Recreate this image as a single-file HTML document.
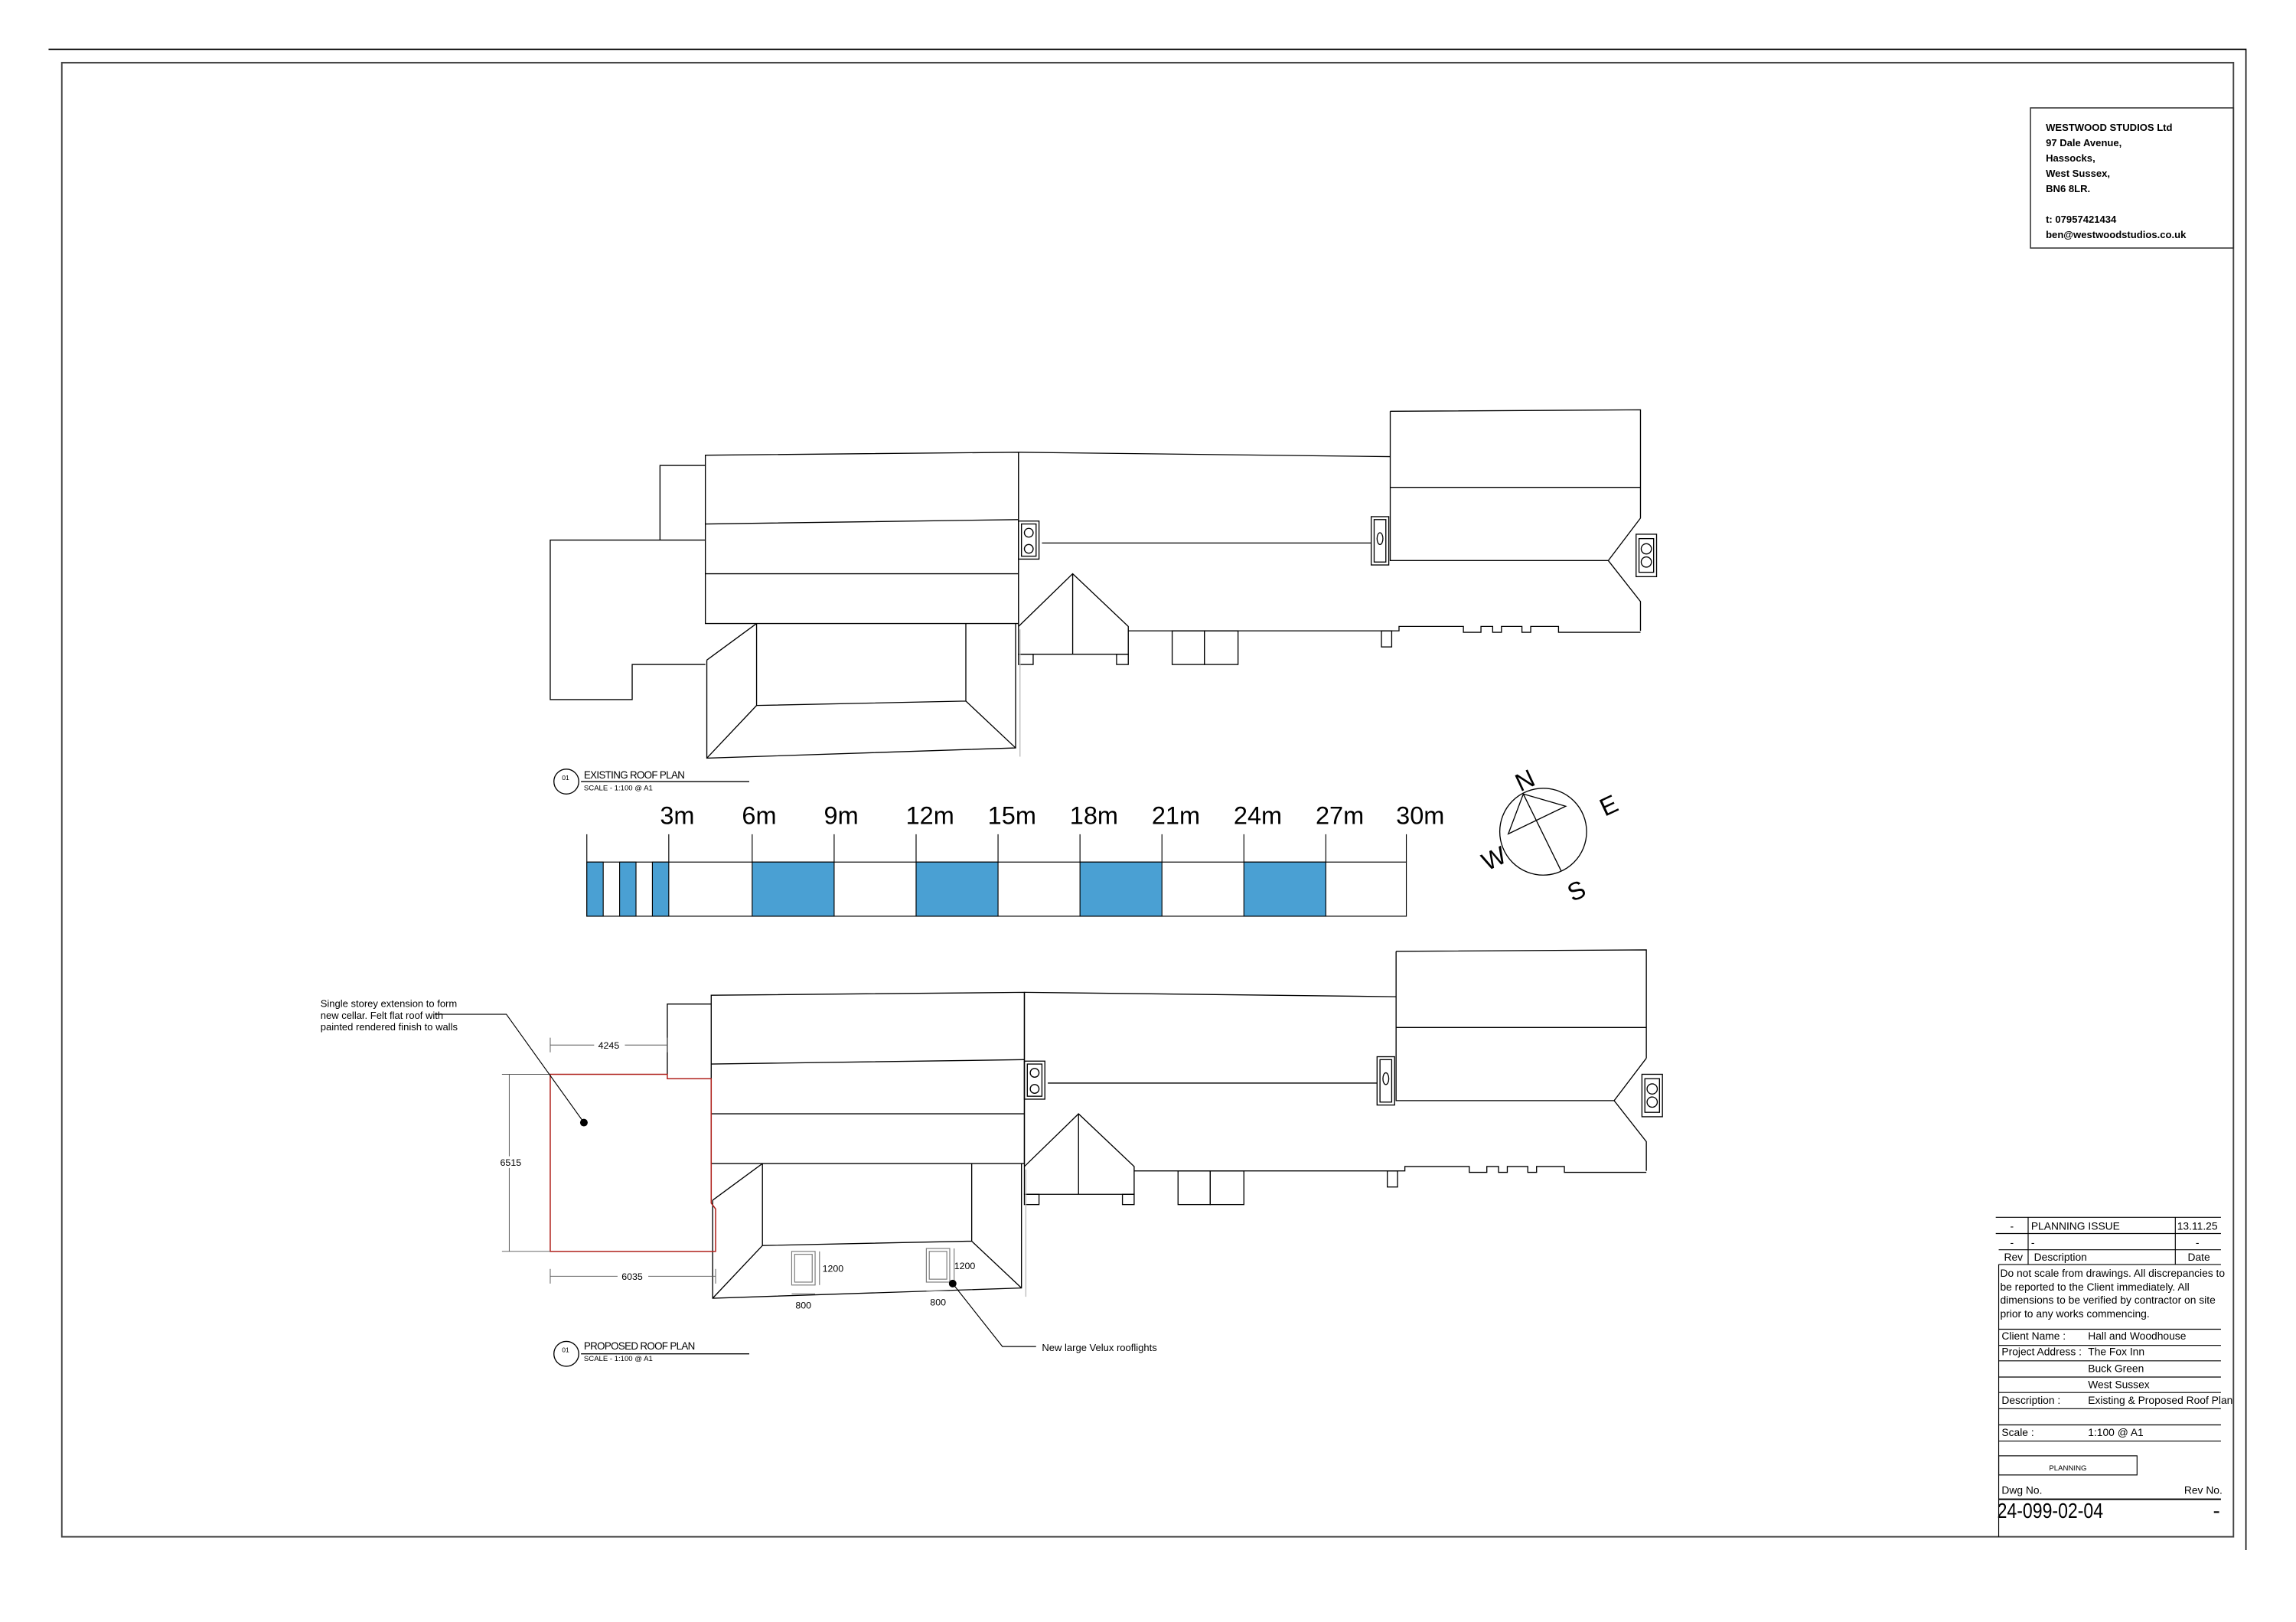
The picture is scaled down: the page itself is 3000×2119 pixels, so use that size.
<!DOCTYPE html>
<html><head><meta charset="utf-8"><style>
html,body{margin:0;padding:0;background:#fff;width:3000px;height:2119px;overflow:hidden}
svg{display:block}
text{font-family:"Liberation Sans",Arial,sans-serif;fill:#000}
</style></head><body>
<svg width="3000" height="2119" viewBox="0 0 1560 1101.9" preserveAspectRatio="none" xmlns="http://www.w3.org/2000/svg">
<defs>
<g id="bld" fill="none" stroke="#000" stroke-width="0.7">
  <path d="M482,311 L696,309 L696,426 L482,426 Z"/>
  <path d="M482,358 L696,355 M482,392 L696,392"/>
  <path d="M696,309 L950,312 M712,371 L937,371"/>
  <rect x="696" y="356" width="14" height="26"/><rect x="698" y="358" width="10" height="22"/>
  <circle cx="703" cy="364" r="3"/><circle cx="703" cy="375" r="3"/>
  <rect x="937" y="353" width="12" height="33"/><rect x="939" y="355" width="8" height="29"/>
  <ellipse cx="943" cy="368" rx="2" ry="4"/>
  <path d="M950,281 L1121,280 L1121,354 M950,333 L1121,333 M950,281 L950,383 L1099,383 M1121,354 L1099,383 L1121,411 L1121,431"/>
  <rect x="1118" y="365" width="14" height="29"/><rect x="1120" y="368" width="10" height="23"/>
  <circle cx="1125" cy="375" r="3.5"/><circle cx="1125" cy="384" r="3.5"/>
  <path d="M696,309 L696,447"/>
  <path d="M696,428 L733,392 L771,428 L771,447 L696,447 M733,392 L733,447"/>
  <rect x="696" y="447" width="10" height="7"/><rect x="763" y="447" width="8" height="7"/>
  <path d="M771,431 L956,431 L956,428 L1000,428 L1000,432 L1012,432 L1012,428 L1020,428 L1020,432 L1026,432 L1026,428 L1040,428 L1040,432 L1046,432 L1046,428 L1065,428 L1065,432 L1121,432"/>
  <rect x="801" y="431" width="22" height="23"/><rect x="823" y="431" width="23" height="23"/>
  <rect x="944" y="431" width="7" height="11"/>
  <path d="M483,451 L483,518 L694,511 L694,426 M517,426 L517,482 L660,479 L660,426 M517,482 L483,518 M660,479 L694,511 M517,426 L483,451"/>
  <path d="M697,430 L697,517" stroke="#bbb"/>
</g>
</defs>

<path d="M33,33.5 L1526,33.5 L1526,1053" fill="none" stroke="#000" stroke-width="0.8"/>
<rect x="42" y="42.6" width="1475.5" height="1001.4" fill="none" stroke="#444" stroke-width="1"/>

<g transform="scale(0.9943)">
  <use href="#bld"/>
  <g fill="none" stroke="#000" stroke-width="0.7">
    <path d="M482,369 L376,369 L376,478 L432,478 L432,454 L482,454"/>
    <path d="M482,318 L451,318 L451,369"/>
    <circle cx="387" cy="534" r="8.5"/>
    <path d="M397,534 L512,534"/>
  </g>
  <text x="384" y="533" font-size="4.5">01</text>
  <text x="399" y="532" font-size="7" textLength="69">EXISTING ROOF PLAN</text>
  <text x="399" y="540" font-size="5">SCALE - 1:100 @ A1</text>

  <use href="#bld" transform="translate(4,369)"/>
  <g fill="none" stroke="#000" stroke-width="0.7">
    <path d="M486,686 L456,686 L456,734"/>
    <circle cx="387" cy="925" r="8.5"/>
    <path d="M397,925 L512,925"/>
  </g>
  <g fill="none" stroke="#b0211c" stroke-width="0.8">
    <path d="M376,734 L456,734 L456,737 L486,737 L486,822 L489,826 L489,855 L376,855 Z"/>
  </g>
  <text x="384" y="924" font-size="4.5">01</text>
  <text x="399" y="922" font-size="7" textLength="76">PROPOSED ROOF PLAN</text>
  <text x="399" y="930" font-size="5">SCALE - 1:100 @ A1</text>

  <g fill="none" stroke="#555" stroke-width="0.5">
    <path d="M376,714 L456,714 M376,709 L376,719 M456,709 L456,719"/>
    <path d="M348,734 L348,855 M343,734 L376,734 M343,855 L376,855"/>
    <path d="M376,872 L489,872 M376,867 L376,877 M489,867 L489,877"/>
  </g>
  <rect x="406" y="710" width="21" height="8" fill="#fff"/>
  <text x="416" y="716.5" font-size="6.5" text-anchor="middle">4245</text>
  <rect x="340" y="790" width="17" height="8" fill="#fff"/>
  <text x="349" y="796.5" font-size="6.5" text-anchor="middle">6515</text>
  <rect x="422" y="868" width="21" height="8" fill="#fff"/>
  <text x="432" y="874.5" font-size="6.5" text-anchor="middle">6035</text>

  <g fill="none" stroke="#777" stroke-width="0.6">
    <rect x="541" y="855" width="16" height="23"/><rect x="543" y="857" width="12" height="19"/>
    <rect x="633" y="853" width="16" height="23"/><rect x="635" y="855" width="12" height="19"/>
    <path d="M560,855 L560,878 M541,884 L557,884 M652,853 L652,876 M633,882 L649,882"/>
  </g>
  <text x="562" y="869" font-size="6.5">1200</text>
  <text x="652" y="867" font-size="6.5">1200</text>
  <text x="549" y="894" font-size="6.5" text-anchor="middle">800</text>
  <text x="641" y="892" font-size="6.5" text-anchor="middle">800</text>

  <g fill="none" stroke="#000" stroke-width="0.6">
    <path d="M297,693 L346,693 L399,767"/>
    <path d="M651,877 L685,920 L708,920"/>
  </g>
  <circle cx="399" cy="767" r="2.6"/><circle cx="651" cy="877" r="2.6"/>
  <text font-size="6.8"><tspan x="219" y="688">Single storey extension to form</tspan><tspan x="219" y="696">new cellar. Felt flat roof with</tspan><tspan x="219" y="704">painted rendered finish to walls</tspan></text>
  <text x="712" y="923" font-size="6.8">New large Velux rooflights</text>

  <g stroke="#000" stroke-width="0.6">
    <rect x="401" y="589" width="560" height="37" fill="#fff"/>
    <g fill="#4aa0d3">
      <rect x="401" y="589" width="11.2" height="37"/><rect x="423.4" y="589" width="11.2" height="37"/><rect x="445.8" y="589" width="11.2" height="37"/>
      <rect x="514" y="589" width="56" height="37"/><rect x="626" y="589" width="56" height="37"/><rect x="738" y="589" width="56" height="37"/><rect x="850" y="589" width="56" height="37"/>
    </g>
    <path d="M401,570 L401,589 M457,570 L457,589 M514,570 L514,589 M570,570 L570,589 M626,570 L626,589 M682,570 L682,589 M738,570 L738,589 M794,570 L794,589 M850,570 L850,589 M906,570 L906,589 M961,570 L961,589" fill="none"/>
  </g>
  <g font-size="17">
    <text x="451" y="563">3m</text><text x="507" y="563">6m</text><text x="563" y="563">9m</text>
    <text x="619" y="563">12m</text><text x="675" y="563">15m</text><text x="731" y="563">18m</text>
    <text x="787" y="563">21m</text><text x="843" y="563">24m</text><text x="899" y="563">27m</text><text x="954" y="563">30m</text>
  </g>
</g>

<g fill="none" stroke="#000" stroke-width="0.7">
  <circle cx="1048.5" cy="565" r="29.5"/>
  <path d="M1035,539.4 L1063.8,547.7 L1024.8,566.5 Z M1035,539.4 L1060.8,591.8"/>
</g>
<g font-size="17">
  <text x="1036" y="536" text-anchor="middle" transform="rotate(-25 1036 530)">N</text>
  <text x="1093" y="553" text-anchor="middle" transform="rotate(-25 1093 547)">E</text>
  <text x="1015" y="589" text-anchor="middle" transform="rotate(-25 1015 583)">W</text>
  <text x="1071" y="611" text-anchor="middle" transform="rotate(-25 1071 605)">S</text>
</g>

<rect x="1379.6" y="73.3" width="137.9" height="95.2" fill="none" stroke="#333" stroke-width="0.8"/>
<g font-size="6.8" font-weight="bold">
  <text x="1390" y="89">WESTWOOD STUDIOS Ltd</text>
  <text x="1390" y="99.4">97 Dale Avenue,</text>
  <text x="1390" y="109.8">Hassocks,</text>
  <text x="1390" y="120.2">West Sussex,</text>
  <text x="1390" y="130.6">BN6 8LR.</text>
  <text x="1390" y="151.4">t: 07957421434</text>
  <text x="1390" y="161.8">ben@westwoodstudios.co.uk</text>
</g>

<g fill="none" stroke="#000" stroke-width="0.6">
  <path d="M1356,827 L1509,827 M1356,838 L1509,838 M1358,849 L1509,849 M1358,859 L1509,859"/>
  <path d="M1378,827 L1378,859 M1478,827 L1478,859 M1358,859 L1358,1044"/>
  <path d="M1358,903 L1509,903 M1358,914 L1509,914 M1358,924.5 L1509,924.5 M1358,935.5 L1509,935.5 M1358,946 L1509,946 M1358,957 L1509,957 M1358,968 L1509,968 M1358,979 L1509,979"/>
  <rect x="1358" y="989" width="94" height="13"/>
  <path d="M1358,1018.5 L1509,1018.5" stroke-width="1"/>
</g>
<g font-size="7.2">
  <text x="1367" y="835.5" text-anchor="middle">-</text><text x="1380" y="835.5">PLANNING ISSUE</text><text x="1493" y="835.5" text-anchor="middle">13.11.25</text>
  <text x="1367" y="846.5" text-anchor="middle">-</text><text x="1380" y="846.5">-</text><text x="1493" y="846.5" text-anchor="middle">-</text>
  <text x="1368" y="856.5" text-anchor="middle">Rev</text><text x="1382" y="856.5">Description</text><text x="1494" y="856.5" text-anchor="middle">Date</text>
  <text x="1359" y="867.5">Do not scale from drawings.  All discrepancies to</text>
  <text x="1359" y="876.7">be reported to the Client immediately.  All</text>
  <text x="1359" y="885.7">dimensions to be verified by contractor on site</text>
  <text x="1359" y="894.9">prior to any works commencing.</text>
  <text x="1360" y="910">Client Name :</text><text x="1418.7" y="910">Hall and Woodhouse</text>
  <text x="1360" y="920.7">Project Address :</text><text x="1418.7" y="920.7">The Fox Inn</text>
  <text x="1418.7" y="932">Buck Green</text>
  <text x="1418.7" y="943">West Sussex</text>
  <text x="1360" y="953.7">Description :</text><text x="1418.7" y="953.7">Existing &amp; Proposed Roof Plan</text>
  <text x="1360" y="975.5">Scale :</text><text x="1418.7" y="975.5">1:100 @ A1</text>
  <text x="1360" y="1014.8">Dwg No.</text><text x="1510" y="1014.8" text-anchor="end">Rev No.</text>
</g>
<text x="1405" y="999" font-size="5" text-anchor="middle">PLANNING</text>
<text x="1357" y="1031.3" font-size="14.5" textLength="72" lengthAdjust="spacingAndGlyphs">24-099-02-04</text>
<text x="1506" y="1031.3" font-size="14.5" text-anchor="middle">-</text>
</svg>
</body></html>
